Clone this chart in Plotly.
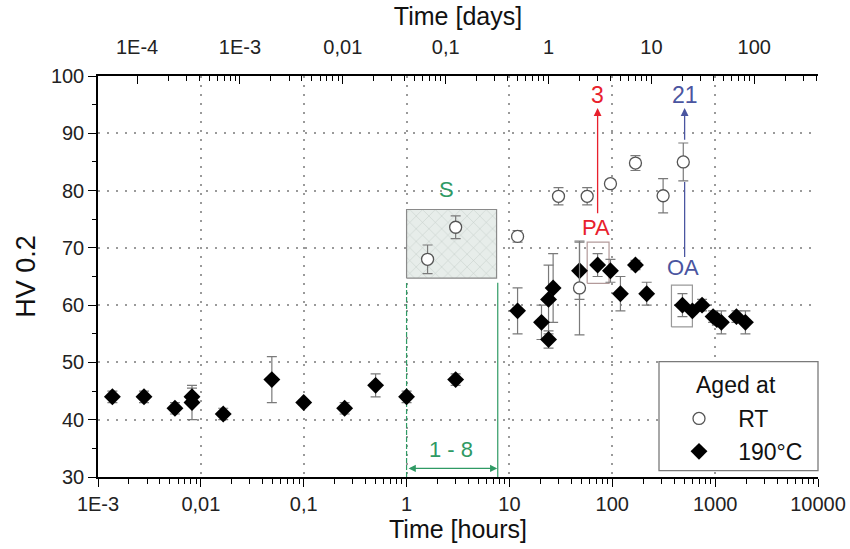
import numpy as np
import plotly.graph_objects as go

# ---------------- data (time in hours) ----------------
t190 = [0.00138, 0.0028, 0.0056, 0.0082, 0.0082, 0.0165, 0.049, 0.1, 0.25, 0.5, 1.0, 3.0,
        12, 20.5, 24, 24, 26.6, 48, 72, 96, 120, 168, 216, 481, 601, 746, 955, 1040, 1150, 1610, 1970]
hv190 = [44, 44, 42, 44, 43, 41, 47, 43, 42, 46, 44, 47,
         59, 57, 61, 54, 63, 66, 67, 66, 62, 67, 62, 60, 59, 60, 58, 57.5, 57, 58, 57]
err190 = [1, 1, 1, 1.5, 3, 1, 4, 0.5, 1, 2, 1, 1,
          4, 3, 6, 1.5, 6, 5, 2, 2, 3, 0.8, 2, 2, 0.5, 1, 1, 1, 2, 1, 2]

tRT = [1.6, 3.0, 12, 30, 57, 48, 96, 168, 312, 490]
hvRT = [68, 73.6, 72, 79, 79, 63, 81.2, 84.8, 79.1, 85]
errRT = [2.5, 2, 1, 1.5, 1.5, 8.2, 0.7, 1.3, 3, 3.3]

x_ticks_h = [1e-3, 1e-2, 1e-1, 1, 10, 100, 1000, 10000]
x_text_h = ["1E-3", "0,01", "0,1", "1", "10", "100", "1000", "10000"]
x_ticks_d = [1e-4, 1e-3, 1e-2, 1e-1, 1, 10, 100]
x_text_d = ["1E-4", "1E-3", "0,01", "0,1", "1", "10", "100"]
y_ticks = [30, 40, 50, 60, 70, 80, 90, 100]

# annotation regions (hours / HV)
S_box = dict(x=[1, 7.5], y=[64.7, 76.7])
PA_box = dict(x=[57, 93], y=[63.8, 71])
OA_box = dict(x=[376, 601], y=[56.2, 63.5])
range_18 = [1, 7.7]
PA_time = 72      # 3 days
OA_time = 505     # 21 days

GREEN = "#2f9a64"
RED = "#e8202c"
BLUE = "#4a55a0"
FONT = "Liberation Sans, Arial, sans-serif"

def minor_vals(lo, hi):
    vals = []
    for e in range(lo, hi):
        for m in range(2, 10):
            vals.append(m * 10.0 ** e)
    return vals

fig = go.Figure()

def rect(b):
    x0, x1 = b["x"]; y0, y1 = b["y"]
    return [x0, x1, x1, x0, x0], [y0, y0, y1, y1, y0]

# S hatched box
sx, sy = rect(S_box)
fig.add_trace(go.Scatter(x=sx, y=sy, mode="lines", fill="toself",
                         line=dict(color="#8a8a8a", width=1.2),
                         fillcolor="#e6ece9",
                         fillpattern=dict(shape="x", fgcolor="#a3b0a9", bgcolor="#e7edea",
                                          size=9, solidity=0.12),
                         showlegend=False, hoverinfo="skip"))
# PA / OA boxes
px_, py_ = rect(PA_box)
fig.add_trace(go.Scatter(x=px_, y=py_, mode="lines", line=dict(color="#b39a9a", width=1.2),
                         showlegend=False, hoverinfo="skip"))
ox_, oy_ = rect(OA_box)
fig.add_trace(go.Scatter(x=ox_, y=oy_, mode="lines", line=dict(color="#999999", width=1.2),
                         showlegend=False, hoverinfo="skip"))
# green verticals
fig.add_trace(go.Scatter(x=[range_18[0], range_18[0]], y=[30, 63.9], mode="lines",
                         line=dict(color=GREEN, width=1.2, dash="5px,2px"),
                         showlegend=False, hoverinfo="skip"))
fig.add_trace(go.Scatter(x=[range_18[1], range_18[1]], y=[30, 63.9], mode="lines",
                         line=dict(color=GREEN, width=1.2),
                         showlegend=False, hoverinfo="skip"))
# blue lower segment
fig.add_trace(go.Scatter(x=[OA_time, OA_time], y=[68.4, 81.5], mode="lines",
                         line=dict(color=BLUE, width=1.3),
                         showlegend=False, hoverinfo="skip"))

# data
fig.add_trace(go.Scatter(x=t190, y=hv190, mode="markers", name="\u00a0\u00a0\u00a0190°C",
                         marker=dict(symbol="diamond", size=13, color="black"),
                         error_y=dict(type="data", array=err190, color="#7a7a7a",
                                      thickness=1.2, width=5)))
fig.add_trace(go.Scatter(x=tRT, y=hvRT, mode="markers", name="\u00a0\u00a0\u00a0RT",
                         marker=dict(symbol="circle", size=12, color="white",
                                     line=dict(color="#555555", width=1.3)),
                         error_y=dict(type="data", array=errRT, color="#7a7a7a",
                                      thickness=1.2, width=5)))

# dummy traces for overlay axes
fig.add_trace(go.Scatter(x=[1], y=[None], xaxis="x2", showlegend=False, hoverinfo="skip"))
fig.add_trace(go.Scatter(x=[1], y=[None], xaxis="x3", showlegend=False, hoverinfo="skip"))

L = np.log10
ann = []
ann.append(dict(x=L(2.44), y=80.2, text="S", showarrow=False, font=dict(size=22, color=GREEN)))
ann.append(dict(x=L(2.72), y=34.8, text="1 - 8", showarrow=False, font=dict(size=22, color=GREEN)))
ann.append(dict(x=L(range_18[1]) - 0.005, y=31.5, ax=L(range_18[0]) + 0.005, ay=31.5,
                axref="x", ayref="y", text="", showarrow=True, arrowside="end+start",
                arrowhead=2, arrowsize=1.2, arrowwidth=1.2, arrowcolor=GREEN))
ann.append(dict(x=L(PA_time) - 0.02, y=73.5, text="PA", showarrow=False,
                font=dict(size=22, color=RED)))
ann.append(dict(x=L(PA_time), y=94.4, ax=L(PA_time), ay=75.8, axref="x", ayref="y",
                text="", showarrow=True, arrowhead=2, arrowsize=1.2, arrowwidth=1.3,
                arrowcolor=RED))
ann.append(dict(x=L(PA_time), y=96.7, text="3", showarrow=False, font=dict(size=23, color=RED)))
ann.append(dict(x=L(OA_time) - 0.02, y=66.5, text="OA", showarrow=False,
                font=dict(size=22, color=BLUE)))
ann.append(dict(x=L(OA_time), y=94.4, ax=L(OA_time), ay=88.6, axref="x", ayref="y",
                text="", showarrow=True, arrowhead=2, arrowsize=1.2, arrowwidth=1.3,
                arrowcolor=BLUE))
ann.append(dict(x=L(OA_time), y=96.7, text="21", showarrow=False, font=dict(size=23, color=BLUE)))
for a in ann:
    a.setdefault("xref", "x")
    a.setdefault("yref", "y")
    a.setdefault("xanchor", "center")
    a.setdefault("yanchor", "middle")
# legend title
ann.append(dict(x=(736 - 98) / 720, y=(477 - 385) / 401, xref="paper", yref="paper",
                xanchor="center", yanchor="middle",
                text="Aged at", showarrow=False, font=dict(size=23, color="#111")))

shapes = [dict(type="rect", xref="paper", yref="paper",
               x0=(659 - 98) / 720, x1=(818 - 98) / 720,
               y0=(477 - 470.7) / 401, y1=(477 - 361.7) / 401,
               line=dict(color="#7a7a7a", width=1.3), fillcolor="white", layer="above")]

axis_font = dict(family=FONT, size=20, color="#222")
fig.update_layout(
    width=850, height=549,
    margin=dict(l=98, r=32, t=76, b=72, autoexpand=False),
    paper_bgcolor="white", plot_bgcolor="white",
    font=dict(family=FONT, color="#222"),
    showlegend=True,
    legend=dict(x=(679 - 98) / 720, y=(477 - 397) / 401, xanchor="left", yanchor="top",
                bgcolor="rgba(0,0,0,0)", borderwidth=0, font=dict(size=23, color="#111"),
                traceorder="reversed", itemsizing="trace"),
    annotations=ann, shapes=shapes,
    xaxis=dict(type="log", range=[-3, 4], tickmode="array", tickvals=x_ticks_h,
               ticktext=x_text_h, tickfont=axis_font, ticks="outside", ticklen=8,
               tickwidth=1.3, tickcolor="black", showline=True, linecolor="black",
               linewidth=1.5, showgrid=False, zeroline=False, automargin=False,
               minor=dict(tickmode="array", tickvals=minor_vals(-3, 4), ticks="outside",
                          ticklen=5, tickwidth=1.1, tickcolor="black", showgrid=False),
               title=dict(text="Time [hours]", font=dict(family=FONT, size=25, color="#111"),
                          standoff=6)),
    xaxis2=dict(type="log", overlaying="x", side="top", anchor="y",
                range=[np.log10(1e-3 / 24), np.log10(1e4 / 24)], tickmode="array",
                tickvals=x_ticks_d, ticktext=x_text_d, tickfont=axis_font, ticks="inside",
                ticklen=8, tickwidth=1.3, tickcolor="black", showline=True,
                linecolor="black", linewidth=1.5, showgrid=False, zeroline=False,
                automargin=False, ticklabelstandoff=12,
                minor=dict(tickmode="array", tickvals=minor_vals(-4, 3), ticks="inside",
                           ticklen=5, tickwidth=1.1, tickcolor="black", showgrid=False),
                title=dict(text="Time [days]", font=dict(family=FONT, size=25, color="#111"),
                           standoff=4)),
    xaxis3=dict(type="log", overlaying="x", anchor="y", range=[-3, 4], tickmode="array",
                tickvals=x_ticks_h[1:-1], showticklabels=False, ticks="", showline=False,
                showgrid=True, gridcolor="#9a9a9a", gridwidth=1.5, griddash="2px,7px",
                zeroline=False, automargin=False),
    yaxis=dict(range=[30, 100], tickmode="array", tickvals=y_ticks, tickfont=axis_font,
               ticks="outside", ticklen=8, tickwidth=1.3, tickcolor="black",
               showline=True, linecolor="black", linewidth=1.5, zeroline=False,
               showgrid=True, gridcolor="#9a9a9a", gridwidth=1.5, griddash="2px,7px",
               automargin=False,
               minor=dict(dtick=5, ticks="outside", ticklen=4, tickwidth=1.1,
                          tickcolor="black", showgrid=False),
               title=dict(text="HV 0.2", font=dict(family=FONT, size=27, color="#111"),
                          standoff=7)),
)
fig.write_html("out.html")
